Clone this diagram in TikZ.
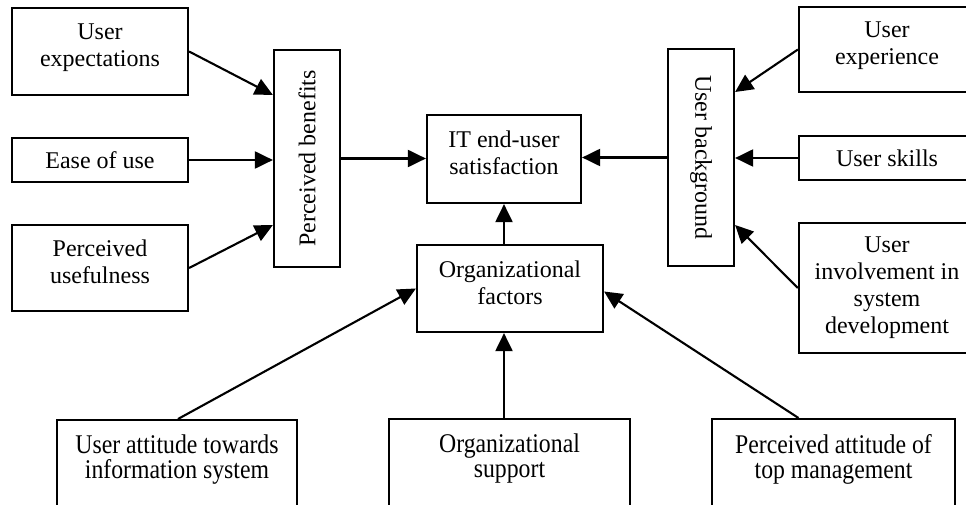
\documentclass[tikz,border=0pt]{standalone}
\usepackage{fontspec}
\setmainfont{Liberation Serif}
\newfontfamily\tallserif[FakeStretch=0.88]{Liberation Serif}
\usetikzlibrary{arrows.meta,positioning}

\tikzset{
  box/.style={draw, line width=2.2pt, inner sep=0pt, align=center,
    font=\fontsize{24}{27}\selectfont},
  twoline/.style={text depth=12pt},
  lowbox/.style={box, anchor=north, inner ysep=15pt, text depth=60pt,
    font=\tallserif\fontsize{27}{25}\selectfont},
  link/.style={line width=2.1pt, -{Triangle[length=18pt,width=17pt]}},
}

\begin{document}
\begin{tikzpicture}[x=1pt,y=-1pt]
\useasboundingbox (0,0) rectangle (966,505);
\clip (0,0) rectangle (966,505);

% --- LEFT INPUTS ---
\node[box, twoline, minimum width=176pt, minimum height=87pt] (uexp) at (100,51.5) {User\\expectations};
\node[box, minimum width=176pt, minimum height=44pt] (ease) at (100,160) {Ease of use};
\node[box, twoline, minimum width=176pt, minimum height=86pt] (puse) at (100,268) {Perceived\\usefulness};

% --- CENTRAL BLOCKS ---
\node[box, minimum width=66pt, minimum height=217pt] (pben) at (307,158.5) {\rotatebox{90}{Perceived benefits}};
\node[box, twoline, minimum width=154pt, minimum height=88pt] (itsat) at (504,159) {IT end-user\\satisfaction};
\node[box, minimum width=66pt, minimum height=217pt] (ubg) at (701,157.5) {\rotatebox{-90}{User background}};
\node[box, twoline, minimum width=186pt, minimum height=87pt] (orgf) at (510,288.5) {Organizational\\factors};

% --- RIGHT INPUTS ---
\node[box, twoline, minimum width=176pt, minimum height=85pt] (uexpr) at (887,49.5) {User\\experience};
\node[box, minimum width=176pt, minimum height=44pt] (uskl) at (887,158) {User skills};
\node[box, minimum width=176pt, minimum height=130pt] (uinv) at (887,288) {User\\involvement in\\system\\development};

% --- BOTTOM INPUTS ---
\node[lowbox, minimum width=240pt] (uatt) at (177,419) {User attitude towards\\information system};
\node[lowbox, minimum width=241pt] (osup) at (509.5,418) {Organizational\\support};
\node[lowbox, minimum width=243pt] (ptop) at (833.5,418) {Perceived attitude of\\top management};

% --- CONNECTORS ---
\draw[link] (uexp.east) -- ([yshift=63.5pt]pben.west);
\draw[link] (ease.east) -- (ease.east -| pben.west);
\draw[link] (puse.east) -- ([yshift=-66.5pt]pben.west);
\draw[link] (pben.east) -- (pben.east -| itsat.west);

\draw[link] (uexpr.west) -- ([yshift=65.5pt]ubg.east);
\draw[link] (uskl.west) -- (uskl.west -| ubg.east);
\draw[link] (uinv.west) -- ([yshift=-67.5pt]ubg.east);
\draw[link] (ubg.west) -- (ubg.west -| itsat.east);

\draw[link] (orgf.north -| itsat.south) -- (itsat.south);
\draw[link] ([xshift=1pt]uatt.north) -- (orgf.west);
\draw[link] (osup.north -| itsat.south) -- (orgf.south -| itsat.south);
\draw[link] ([xshift=-35pt]ptop.north) -- ([yshift=-3pt]orgf.east);

\end{tikzpicture}
\end{document}
